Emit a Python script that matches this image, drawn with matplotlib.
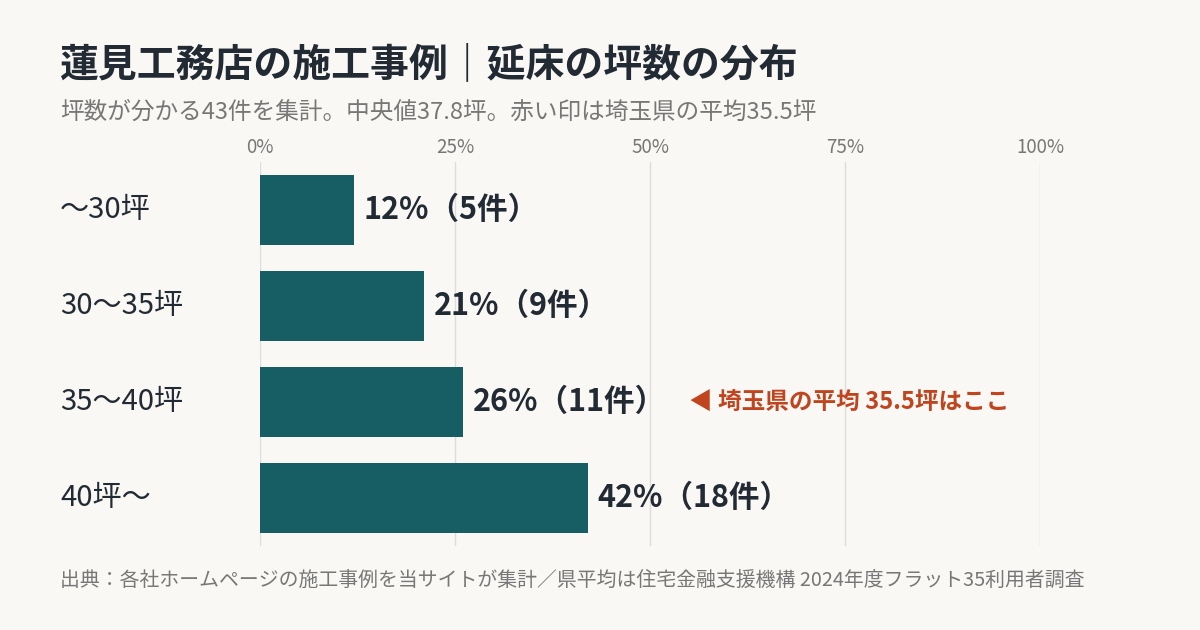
import matplotlib
matplotlib.use("Agg")
import matplotlib.pyplot as plt

plt.rcParams['font.family'] = ['Noto Sans CJK JP', 'DejaVu Sans']

categories = ["〜30坪", "30〜35坪", "35〜40坪", "40坪〜"]
percents = [12, 21, 26, 42]
counts = [5, 9, 11, 18]
ticks = [0, 25, 50, 75, 100]
tick_labels = ["0%", "25%", "50%", "75%", "100%"]

bg = "#f9f8f5"
bar_c = "#165e63"
fig = plt.figure(figsize=(12, 6.3), dpi=100, facecolor=bg)
ax = fig.add_axes([260/1200, 1-546/630, 780/1200, 384/630], facecolor=bg)
ys = list(range(len(categories)))
ax.barh(ys, percents, height=0.73, color=bar_c)
ax.set_xlim(0, 100)
ax.set_ylim(3.5, -0.5)
ax.set_xticks(ticks)
ax.set_xticklabels(tick_labels)
ax.xaxis.tick_top()
ax.tick_params(axis='x', length=0, labelsize=13.5, labelcolor="#777777", pad=3)
ax.set_yticks([])
for s in ax.spines.values():
    s.set_visible(False)
ax.grid(axis='x', color="#dddddd", linewidth=1)
ax.set_axisbelow(True)
for y, p, c, cat in zip(ys, percents, counts, categories):
    ax.text(p + 1.3, y, f"{p}%（{c}件）", va='center', ha='left', fontsize=22,
            fontweight='bold', color="#222a33")
    fig.text(60/1200, 1-(210+96*y)/630, cat, va='center', ha='left', fontsize=21, color="#222a33")
ax.text(55.0, 2, "◀ 埼玉県の平均 35.5坪はここ", va='center', ha='left', fontsize=17,
        fontweight='bold', color="#c0451f")

fig.text(60/1200, 1-65/630, "蓮見工務店の施工事例｜延床の坪数の分布", fontsize=28, fontweight='bold',
         color="#222a33", va='center')
fig.text(60/1200, 1-112/630, "坪数が分かる43件を集計。中央値37.8坪。赤い印は埼玉県の平均35.5坪", fontsize=17,
         color="#777777", va='center')
fig.text(60/1200, 1-580/630, "出典：各社ホームページの施工事例を当サイトが集計／県平均は住宅金融支援機構 2024年度フラット35利用者調査",
         fontsize=14.3, color="#777777", va='center')
fig.savefig("out.png", dpi=100, facecolor=bg)
